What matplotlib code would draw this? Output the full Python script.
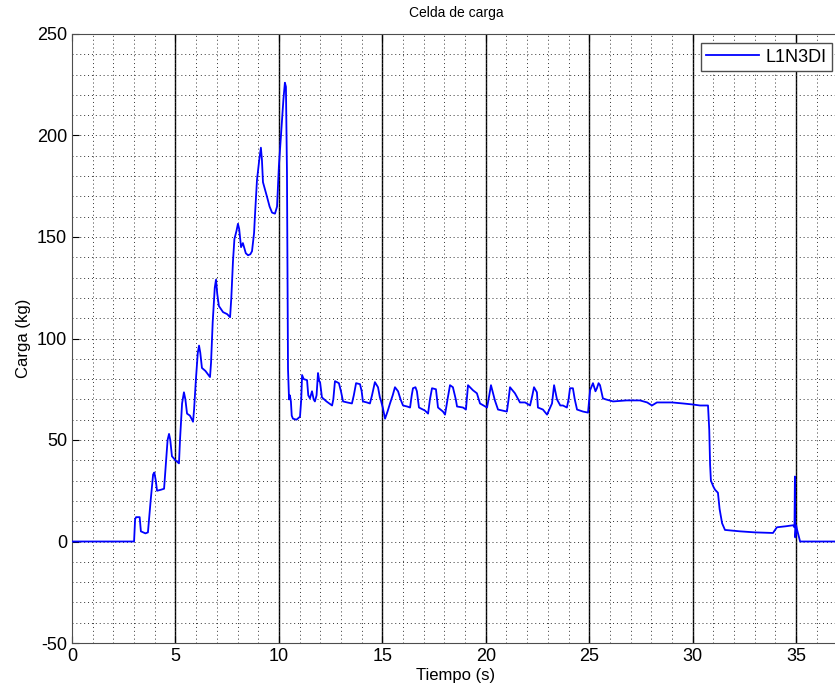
import numpy as np
import matplotlib.pyplot as plt
from matplotlib.ticker import MultipleLocator

plt.rcParams['font.family'] = ['Liberation Sans', 'DejaVu Sans']
plt.rcParams['axes.unicode_minus'] = False

# Load cell reading
tiempo = [0, 3.00, 3.05, 3.10, 3.27, 3.33, 3.55, 3.67,
          3.80, 3.92, 3.98, 4.05, 4.11, 4.30, 4.45, 4.50, 4.62, 4.69, 4.75, 4.83,
          5.00, 5.17, 5.22, 5.32, 5.41, 5.48, 5.56, 5.70, 5.85, 5.90, 5.99, 6.08,
          6.14, 6.20, 6.28, 6.45, 6.60, 6.67, 6.72, 6.80, 6.90, 6.96, 7.02, 7.10,
          7.30, 7.50, 7.64, 7.70, 7.78, 7.85, 7.95, 8.02, 8.08, 8.17, 8.26, 8.40,
          8.51, 8.62, 8.70, 8.80, 8.84, 8.94, 9.05, 9.13, 9.18, 9.23, 9.42, 9.55,
          9.67, 9.81, 9.91, 10.00, 10.15, 10.22, 10.29, 10.34, 10.39, 10.42, 10.44,
          10.49, 10.53, 10.58, 10.62, 10.68, 10.85, 11.02, 11.08, 11.12, 11.20,
          11.36, 11.42, 11.50, 11.60, 11.68, 11.74, 11.82, 11.89, 11.95, 11.99,
          12.08, 12.30, 12.57, 12.63, 12.71, 12.80, 12.90, 13.00, 13.10, 13.30,
          13.53, 13.62, 13.73, 13.92, 14.00, 14.06, 14.25, 14.40, 14.50, 14.64,
          14.79, 14.88, 14.93, 15.02, 15.13, 15.25, 15.37, 15.50, 15.61, 15.76,
          15.88, 16.00, 16.20, 16.34, 16.42, 16.48, 16.60, 16.67, 16.77, 17.06,
          17.21, 17.30, 17.40, 17.59, 17.69, 17.93, 18.03, 18.15, 18.27, 18.41,
          18.55, 18.61, 18.90, 19.04, 19.14, 19.38, 19.57, 19.72, 20.06, 20.15,
          20.25, 20.44, 20.59, 21.02, 21.10, 21.17, 21.41, 21.65, 21.90, 22.14,
          22.25, 22.33, 22.47, 22.52, 22.76, 22.96, 23.20, 23.30, 23.44, 23.60,
          23.73, 23.92, 24.00, 24.07, 24.21, 24.30, 24.41, 24.70, 24.94, 25.04,
          25.18, 25.30, 25.37, 25.45, 25.52, 25.66, 25.80, 26.15, 26.80, 27.45,
          27.80, 28.03, 28.27, 29.00, 29.53, 30.00, 30.35, 30.74, 30.80, 30.84,
          30.88, 31.00, 31.08, 31.22, 31.30, 31.42, 31.56, 32.29, 33.00, 33.88,
          34.07, 34.50, 34.85, 34.92, 34.94, 34.96, 35.00, 35.04, 35.19, 36.9]
carga = [0, 0, 11, 12, 12, 5, 4, 4.5,
         20, 33, 34, 30, 25, 25.5, 26, 33, 50, 53, 50, 42,
         40, 38.5, 50, 68, 73.5, 70, 63, 62, 59, 65, 80, 93,
         96.5, 93, 85.5, 84, 82, 81, 88, 108, 125, 129, 122, 116,
         113, 112, 110.5, 120, 138, 149, 153, 156.5, 154, 145, 147, 142,
         141, 141.5, 143, 152, 160, 178, 188, 194, 188, 177, 170, 165,
         162, 161.5, 165, 185, 207, 218, 226, 224, 182, 120, 85,
         70, 72, 69, 62, 60.5, 60, 61.5, 70, 82, 80,
         79.5, 72, 70.5, 74, 70, 69, 72, 83, 79, 78.5,
         71, 69, 67, 70, 79, 78.5, 78, 74, 69, 68.5,
         68, 72, 78, 77.5, 74, 69, 68.5, 68, 72, 78.5,
         76, 71, 69.5, 66, 60.5, 64, 68, 72, 76, 74,
         70, 67, 66.5, 66, 72, 75.5, 76, 74, 66, 64.5,
         63, 70, 75.5, 75, 66, 64, 62.5, 70, 77, 76,
         70, 66.5, 66, 65, 77, 74.5, 73, 68, 66, 71,
         77, 69.5, 65, 64, 70, 76, 73, 68.5, 68.5, 67,
         72, 76, 73.5, 66, 65, 62.5, 68, 77, 70, 67,
         67, 66, 70, 75.5, 75.5, 70, 65, 64, 63.5, 74.5,
         78, 74, 75.5, 78, 77, 70.5, 70, 69, 69.5, 69.5,
         68.5, 67, 68.5, 68.5, 68, 67.5, 67, 67, 55, 38,
         30, 27, 25.5, 24, 16, 9, 5.7, 5, 4.5, 4.2,
         7, 7.5, 8, 7, 32, 2, 8, 6, 0, 0]

marcas = [5, 10, 15, 20, 25, 30, 35]

fig = plt.figure(figsize=(8.35, 6.91), dpi=100)
ax = fig.add_axes([72 / 835, 48 / 691, (840 - 72) / 835, 609 / 691])

for m in marcas:
    ax.axvline(m, color='k', lw=1, zorder=1)

ax.plot(tiempo, carga, color='b', lw=1.3, label='L1N3DI', zorder=3)

ax.set_xlim(0, (840 - 72) / 20.69)
ax.set_ylim(-50, 250)
ax.xaxis.set_major_locator(MultipleLocator(5))
ax.yaxis.set_major_locator(MultipleLocator(50))
ax.xaxis.set_minor_locator(MultipleLocator(1))
ax.yaxis.set_minor_locator(MultipleLocator(10))
ax.grid(True, which='both', linestyle=(0, (1, 3)), color='0.2', lw=0.7, zorder=0)
ax.tick_params(which='major', direction='in', length=5, labelsize=13, top=True)
ax.tick_params(which='minor', length=0)
for s in ax.spines.values():
    s.set_color('0.3')

ax.set_title('Celda de carga', fontsize=10, pad=12)
ax.set_xlabel('Tiempo (s)', fontsize=12, labelpad=2)
ax.set_ylabel('Carga (kg)', fontsize=12, labelpad=4)

leg = ax.legend(loc='upper left', bbox_to_anchor=(0.819, 0.985), fontsize=13,
                handlelength=2.9, handletextpad=0.35, borderaxespad=0,
                fancybox=False, framealpha=1, edgecolor='0.3', borderpad=0.3)
leg.get_frame().set_linewidth(1)

fig.savefig('out.png', dpi=100)
